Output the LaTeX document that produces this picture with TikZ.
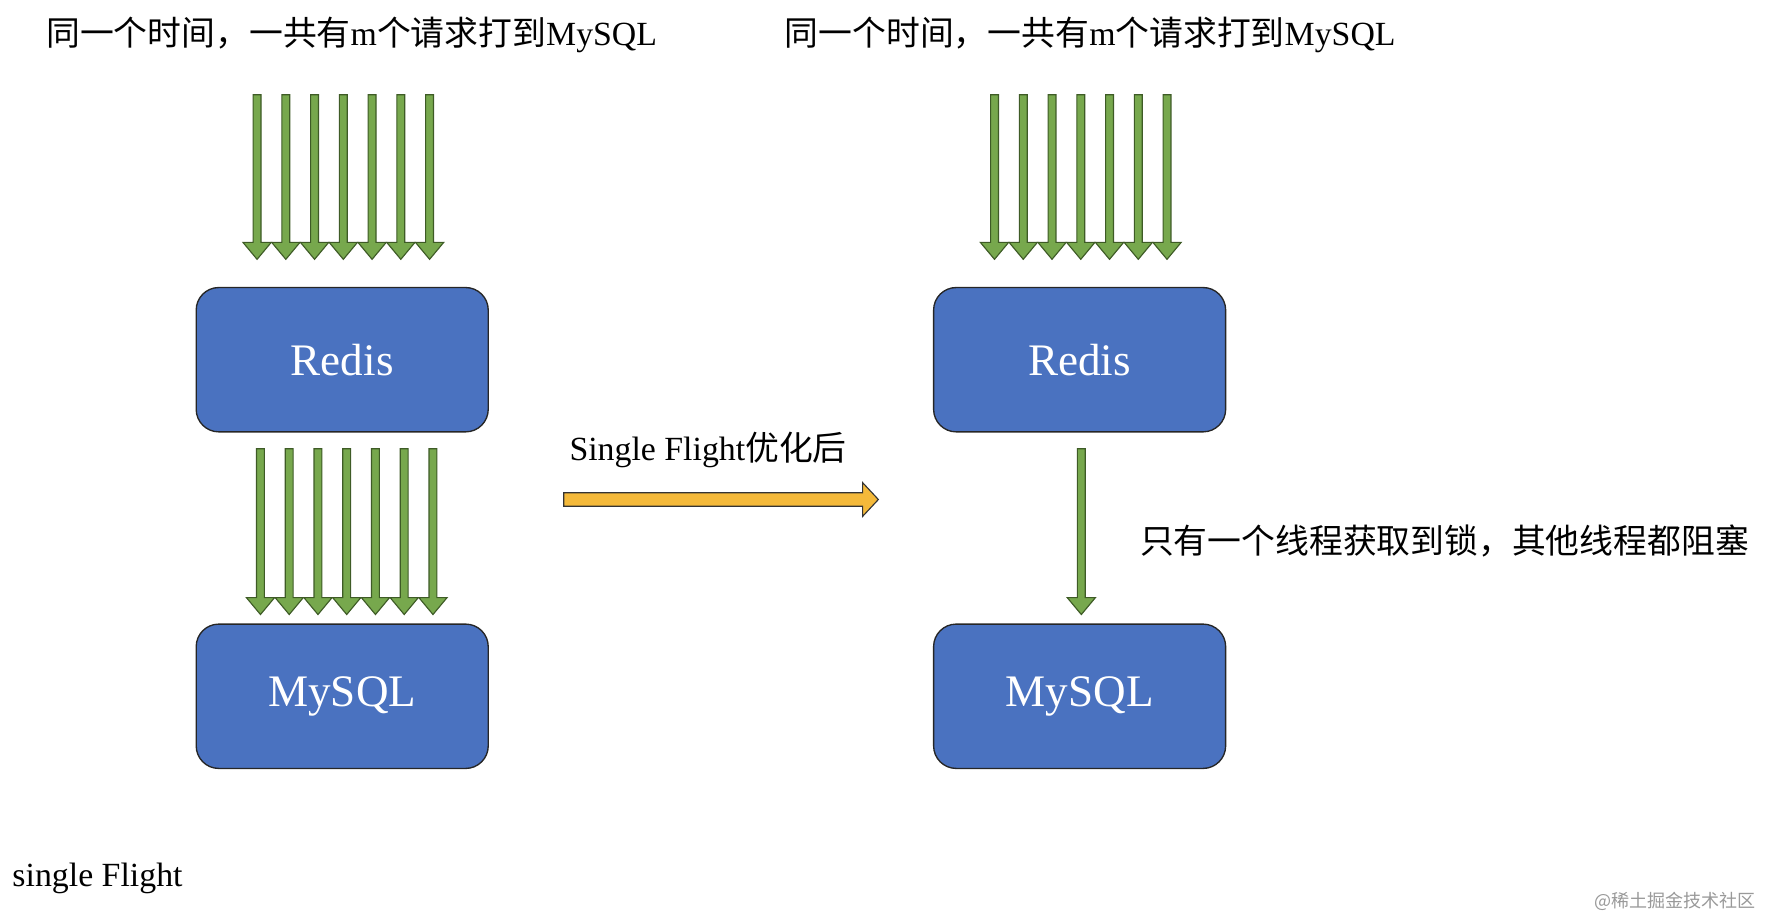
\documentclass[tikz,border=0pt]{standalone}
\usepackage{fontspec}
\setmainfont{Liberation Serif}
\newfontfamily\cjk{Noto Sans CJK SC}
\definecolor{boxblue}{HTML}{4A72C0}
\definecolor{reqgreen}{HTML}{77A84D}
\definecolor{reqdark}{HTML}{3E5B26}
\definecolor{goyellow}{HTML}{F4B93A}
\tikzset{
  store/.style={draw=black!85, fill=boxblue, rounded corners=10pt, line width=0.6pt,
    minimum width=129.5pt, minimum height=64pt, text=white, font=\fontsize{20}{24}\selectfont},
  req/.style={draw=reqdark, fill=reqgreen, line width=0.5pt},
  title/.style={anchor=west, font=\fontsize{15}{18}\selectfont}
}
% one green request arrow: x, top y, tip y
\newcommand{\reqarrow}[3]{
  \draw [req] (#1-3.5,#2) -- (#1+3.5,#2) -- (#1+3.5,#3-15) -- (#1+12.5,#3-15)
    -- (#1,#3) -- (#1-12.5,#3-15) -- (#1-3.5,#3-15) -- cycle;
}
\begin{document}
\begin{tikzpicture}[x=0.5pt,y=-0.5pt]
    \useasboundingbox (0,0) rectangle (1568,814);

    % Boxes
    \node [store] (redisL) at (303.5,319) {Redis};
    \node [store] (mysqlL) at (303.5,617.5) {MySQL};
    \node [store] (redisR) at (957.5,319) {Redis};
    \node [store] (mysqlR) at (957.5,617.5) {MySQL};

    % Request arrows
    \foreach \i in {0,...,6} {
        \reqarrow{228+25.5*\i}{84}{230}
        \reqarrow{231+25.5*\i}{398}{545}
        \reqarrow{882+25.5*\i}{84}{230}
    }
    \reqarrow{959}{398}{545}

    % Optimisation arrow
    \draw [draw=black!80, fill=goyellow, line width=0.5pt]
        (500,437) -- (765,437) -- (765,428) -- (779,443) -- (765,458) -- (765,449) -- (500,449) -- cycle;

    % Labels
    \node [title] (tL) at (34,31) {{\cjk 同一个时间，一共有}m{\cjk 个请求打到}MySQL};
    \node [title] (tR) at (689,31) {{\cjk 同一个时间，一共有}m{\cjk 个请求打到}MySQL};
    \node [title, anchor=center] (opt) at (628,399) {Single Flight{\cjk 优化后}};
    \node [title] (lock) at (1004,480) {\cjk 只有一个线程获取到锁，其他线程都阻塞};
    \node [title] (sf) at (4,779) {single Flight};
    \node [anchor=east, text=black!40, font=\cjk\fontsize{8}{10}\selectfont] (wm) at (1564,799) {@稀土掘金技术社区};
\end{tikzpicture}
\end{document}
